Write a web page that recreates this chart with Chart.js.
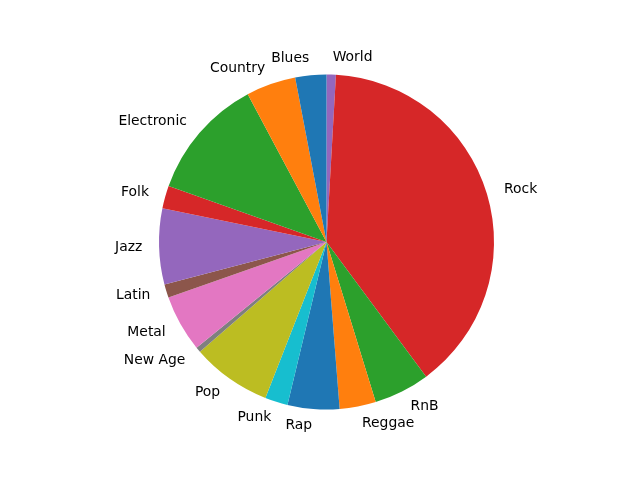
<!DOCTYPE html>
<html>
<head>
<meta charset="utf-8">
<script src="https://cdn.jsdelivr.net/npm/chart.js@4/dist/chart.umd.min.js"></script>
<style>
html,body{margin:0;padding:0;background:#fff;}
#wrap{width:640px;height:480px;}
</style>
</head>
<body>
<div id="wrap"><canvas id="c" width="640" height="480"></canvas></div>
<script>
const categories = ["Blues","Country","Electronic","Folk","Jazz","Latin","Metal","New Age","Pop","Punk","Rap","Reggae","RnB","Rock","World"];
const shares = [3.0,4.8,11.8,2.2,7.3,1.3,5.5,0.5,7.7,2.2,5.0,3.5,5.4,39.0,0.9];
const palette = ["#1f77b4","#ff7f0e","#2ca02c","#d62728","#9467bd","#8c564b","#e377c2","#7f7f7f","#bcbd22","#17becf"];

// matplotlib draws counter-clockwise from the top; Chart.js clockwise -> reverse order
const colors = categories.map((_, i) => palette[i % palette.length]);
const labelsR = categories.slice().reverse();
const dataR = shares.slice().reverse();
const colorsR = colors.slice().reverse();

const outerLabels = {
  id: 'outerLabels',
  afterDraw(chart) {
    const ctx = chart.ctx;
    const meta = chart.getDatasetMeta(0);
    ctx.save();
    ctx.font = '13.9px "DejaVu Sans"';
    ctx.fillStyle = '#000';
    ctx.textBaseline = 'middle';
    meta.data.forEach((arc, i) => {
      const p = arc.getProps(['x','y','startAngle','endAngle','outerRadius'], true);
      const mid = (p.startAngle + p.endAngle) / 2;
      const r = p.outerRadius * 1.1;
      const right = Math.cos(mid) > 0;
      const x = p.x + r * Math.cos(mid) + (right ? 1 : 0);
      const y = p.y + r * Math.sin(mid);
      ctx.textAlign = right ? 'left' : 'right';
      ctx.fillText(chart.data.labels[i], x, y);
    });
    ctx.restore();
  }
};

new Chart(document.getElementById('c'), {
  type: 'pie',
  data: {
    labels: labelsR,
    datasets: [{
      data: dataR,
      backgroundColor: colorsR,
      borderWidth: 0
    }]
  },
  options: {
    responsive: false,
    animation: false,
    layout: { padding: { left: 159, right: 146, top: 74.5, bottom: 70.5 } },
    plugins: {
      legend: { display: false },
      tooltip: { enabled: false }
    }
  },
  plugins: [outerLabels]
});
</script>
</body>
</html>
